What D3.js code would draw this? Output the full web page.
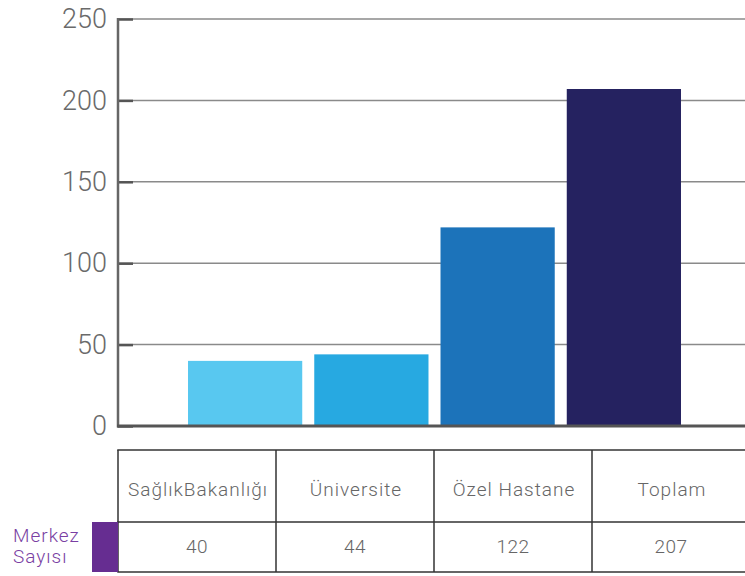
<!DOCTYPE html>
<html><head><meta charset="utf-8">
<script src="https://cdn.jsdelivr.net/npm/d3@7"></script>
<style>body{margin:0;background:#fff}svg{display:block}</style>
</head><body>
<svg id="c" width="745" height="576"></svg>
<script>
const categories = ["SağlıkBakanlığı", "Üniversite", "Özel Hastane", "Toplam"];
const values = [40, 44, 122, 207];
const colors = ["#58C8F0", "#27A9E1", "#1C73BA", "#252260"];
const yTicks = [0, 50, 100, 150, 200, 250];
const rowLabel = ["Merkez", "Sayısı"];

const svg = d3.select("#c");
const font = "Roboto, 'DejaVu Sans', sans-serif";
const x0 = 118, x1 = 745, yTop = 19, yBase = 426;

const y = d3.scaleLinear().domain([0, 250]).range([yBase, yTop]);
const x = d3.scaleBand().domain(categories).range([182, 687])
  .paddingInner(12/126).paddingOuter(6/126);

// gridlines
svg.append("g").selectAll("line").data(yTicks.filter(d => d > 0)).join("line")
  .attr("x1", x0).attr("x2", x1).attr("y1", d => y(d)).attr("y2", d => y(d))
  .attr("stroke", "#8a8a8a").attr("stroke-width", 1.5);

// bars
svg.append("g").selectAll("rect").data(values).join("rect")
  .attr("x", (d, i) => x(categories[i])).attr("width", x.bandwidth())
  .attr("y", d => y(d)).attr("height", d => yBase - y(d))
  .attr("fill", (d, i) => colors[i]);

// axis
const axis = d3.axisLeft(y).tickValues(yTicks).tickSize(-15).tickPadding(10);
const ag = svg.append("g").attr("transform", `translate(${x0},0)`).call(axis);
ag.select(".domain").remove();
ag.selectAll(".tick line").attr("stroke", "#555").attr("stroke-width", 2.5);
ag.selectAll(".tick text").attr("font-family", font).attr("font-weight", 300)
  .attr("font-size", 27).attr("fill", "#6a6a6a").attr("x", -11);
svg.append("line").attr("x1", x0).attr("x2", x0).attr("y1", yTop - 1).attr("y2", yBase + 1.5)
  .attr("stroke", "#666").attr("stroke-width", 2.5);
svg.append("line").attr("x1", x0 - 1).attr("x2", x1).attr("y1", yBase).attr("y2", yBase)
  .attr("stroke", "#555").attr("stroke-width", 3);

// table
const tx = d3.scaleBand().domain(categories).range([x0, x0 + 158 * 4]);
const tTop = 450, tMid = 522, tBot = 572;
const tg = svg.append("g");
[tTop, tMid, tBot].forEach(yy => tg.append("line").attr("x1", x0 - 0.75).attr("x2", x1)
  .attr("y1", yy).attr("y2", yy).attr("stroke", "#333").attr("stroke-width", 1.5));
categories.forEach(c => tg.append("line").attr("x1", tx(c)).attr("x2", tx(c))
  .attr("y1", tTop).attr("y2", tBot).attr("stroke", "#333").attr("stroke-width", 1.5));
tg.selectAll("text.h").data(categories).join("text").attr("class", "h")
  .attr("x", d => tx(d) + tx.bandwidth() / 2 + 1).attr("y", 496)
  .attr("text-anchor", "middle").attr("font-family", font).attr("font-weight", 300)
  .attr("font-size", 19).attr("letter-spacing", 1).attr("fill", "#666").text(d => d);
tg.selectAll("text.v").data(values).join("text").attr("class", "v")
  .attr("x", (d, i) => tx(categories[i]) + tx.bandwidth() / 2).attr("y", 553)
  .attr("text-anchor", "middle").attr("font-family", font).attr("font-weight", 300)
  .attr("font-size", 19).attr("letter-spacing", 0.5).attr("fill", "#666").text(d => d);

// row label
svg.append("rect").attr("x", 92).attr("y", tMid).attr("width", x0 - 92).attr("height", tBot - tMid)
  .attr("fill", "#662D91");
svg.selectAll("text.r").data(rowLabel).join("text").attr("class", "r")
  .attr("x", 13).attr("y", (d, i) => 542 + i * 21)
  .attr("font-family", font).attr("font-weight", 300).attr("font-size", 19)
  .attr("letter-spacing", 1).attr("fill", "#7A3FA3").text(d => d);
</script>
</body></html>
